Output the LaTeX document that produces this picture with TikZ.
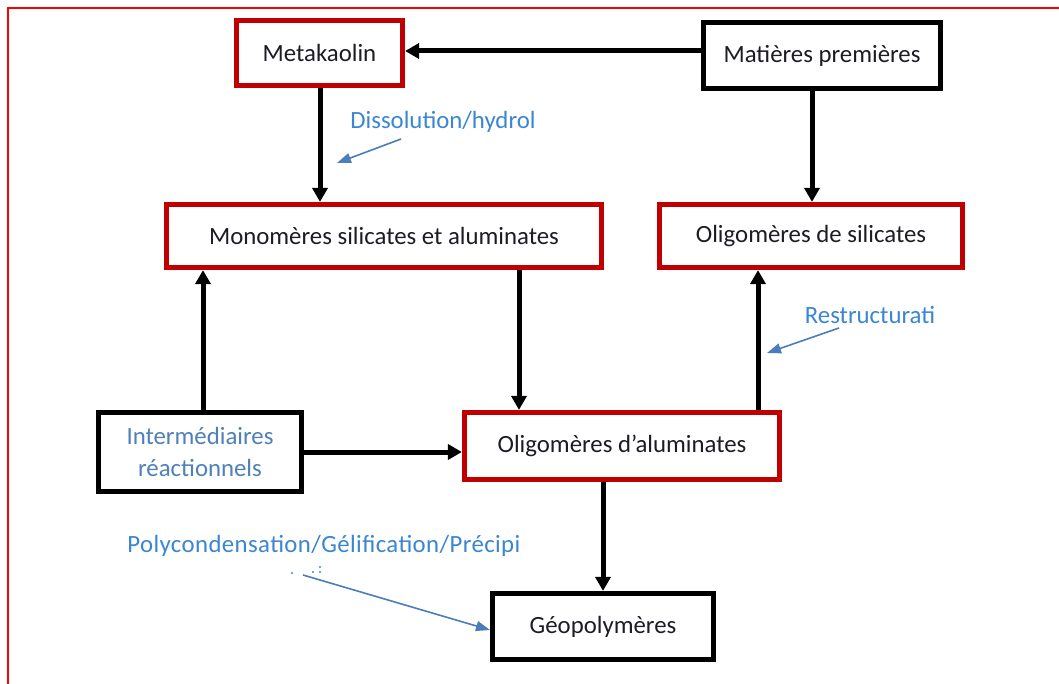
\documentclass[tikz,border=0pt]{standalone}
\usepackage{fontspec}
\setmainfont{Carlito}
\usetikzlibrary{arrows.meta}
\definecolor{boxred}{HTML}{C00000}
\definecolor{frameRed}{HTML}{FF0000}
\definecolor{lblblue}{HTML}{3A86D2}
\definecolor{intblue}{HTML}{4F80BA}
\definecolor{arrblue}{HTML}{4A7EBB}
\definecolor{txt}{HTML}{1C1C24}
\begin{document}
\begin{tikzpicture}[x=0.5pt,y=-0.5pt,
  base/.style={rectangle, line width=2.6pt, fill=white, text=txt, align=center,
    font=\fontsize{12.4}{16}\selectfont, inner sep=0pt},
  redbox/.style={base, draw=boxred},
  blackbox/.style={base, draw=black},
  arr/.style={draw=black, line width=2.5pt, -{Triangle[width=7.5pt,length=7pt]}},
  barr/.style={draw=arrblue, line width=0.8pt, -{Triangle[width=5pt,length=7pt]}},
  lbl/.style={text=lblblue, font=\fontsize{12.4}{16}\selectfont, inner sep=0pt}]
\useasboundingbox (0,0) rectangle (1059,684);
\fill[white] (0,0) rectangle (1059,684);
\draw[frameRed, line width=1pt] (8,684) -- (8,8) -- (1059,8);

% boxes
\node[redbox, minimum width=83pt, minimum height=32.5pt] (mk) at (319.5,53) {Metakaolin};
\node[blackbox, minimum width=118.5pt, minimum height=33pt] (mp) at (822,55.5) {Matières premières};
\node[redbox, minimum width=217.5pt, minimum height=31.5pt] (mono) at (384,236) {Monomères silicates et aluminates};
\node[redbox, minimum width=151.5pt, minimum height=31.5pt] (osil) at (811,236) {Oligomères de silicates};
\node[blackbox, minimum width=101.5pt, minimum height=39.5pt, text=intblue] (inter) at (200,452) {Intermédiaires\\réactionnels};
\node[redbox, minimum width=157.5pt, minimum height=33.5pt] (oalu) at (622,446) {Oligomères d’aluminates};
\node[blackbox, minimum width=110.5pt, minimum height=33pt] (geo) at (603,626.5) {Géopolymères};

% helper coordinates
\coordinate (xa) at (320,0);
\coordinate (xb) at (812,0);
\coordinate (xc) at (203,0);
\coordinate (xd) at (519,0);
\coordinate (xe) at (758,0);
\coordinate (xf) at (603,0);
\coordinate (ya) at (0,51);
\coordinate (yb) at (0,452);

% black arrows
\draw[arr] (mp.west |- ya) -- (mk.east |- ya);
\draw[arr] (mk.south -| xa) -- (mono.north -| xa);
\draw[arr] (mp.south -| xb) -- (osil.north -| xb);
\draw[arr] (inter.north -| xc) -- (mono.south -| xc);
\draw[arr] (mono.south -| xd) -- (oalu.north -| xd);
\draw[arr] (inter.east |- yb) -- (oalu.west |- yb);
\draw[arr] (oalu.north -| xe) -- (osil.south -| xe);
\draw[arr] (oalu.south -| xf) -- (geo.north -| xf);

% labels
\node[lbl] (l1) at (443,122) {Dissolution/hydrol};
\node[lbl] (l2) at (870,315) {Restructurati};
\node[lbl, anchor=west] (l3) at (127,546) {\addfontfeature{LetterSpace=1.6}Polycondensation/Gélification/Précipi};

% blue arrows
\coordinate (b1s) at (401,139);
\coordinate (b1e) at (337,163);
\coordinate (b2s) at (839,328);
\coordinate (b2e) at (767,353);
\coordinate (b3s) at (303,575);
\coordinate (b3e) at (490,630);
\draw[barr] (b1s) -- (b1e);
\draw[barr] (b2s) -- (b2e);
\draw[barr] (b3s) -- (b3e);

% remnants of clipped text line
\fill[lblblue] (292,573) circle (0.6pt);
\fill[lblblue] (313,572) circle (0.6pt);
\fill[lblblue] (320,567) circle (0.6pt);
\fill[lblblue] (320,572) circle (0.6pt);
\end{tikzpicture}
\end{document}
